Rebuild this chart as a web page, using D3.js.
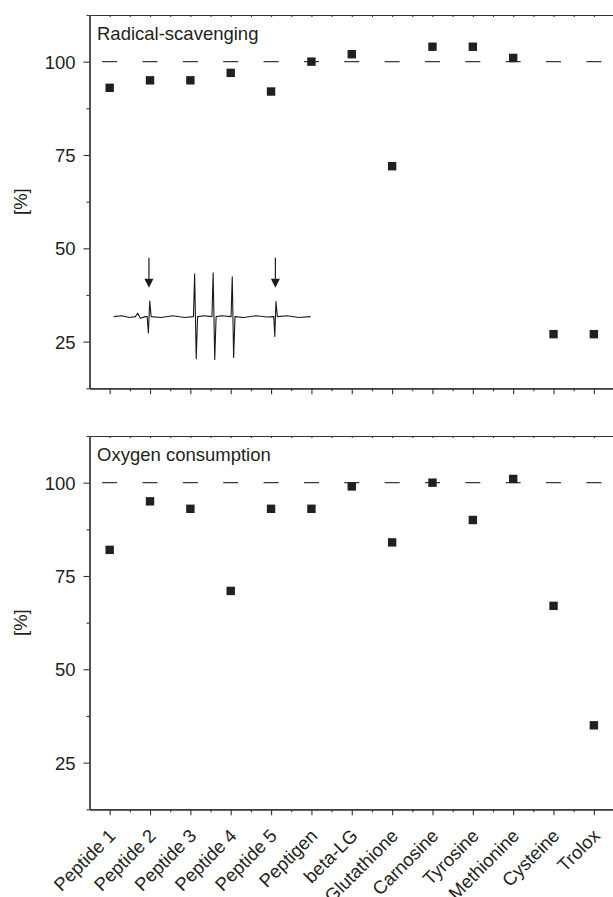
<!DOCTYPE html>
<html>
<head>
<meta charset="utf-8">
<script src="https://cdn.jsdelivr.net/npm/d3@7"></script>
<style>
  html, body { margin: 0; padding: 0; background: #fff; overflow: hidden; }
  svg { display: block; overflow: hidden; }
  text { font-family: "Liberation Sans", Arial, Helvetica, sans-serif; fill: #231f20; }
</style>
</head>
<body>
<script>
// ---------------- data ----------------
const categories = ["Peptide 1", "Peptide 2", "Peptide 3", "Peptide 4", "Peptide 5", "Peptigen",
  "beta-LG", "Glutathione", "Carnosine", "Tyrosine", "Methionine", "Cysteine", "Trolox"];
const radicalScavenging = [93, 95, 95, 97, 92, 100, 102, 72, 104, 104, 101, 27, 27];
const oxygenConsumption = [82, 95, 93, 71, 93, 93, 99, 84, 100, 90, 101, 67, 35];
const panelTitles = ["Radical-scavenging", "Oxygen consumption"];
const yTickValues = [25, 50, 75, 100];
const yMinorTickValues = [12.5, 37.5, 62.5, 87.5, 112.5];
const yDomain = [12.5, 112.5];
const referenceLevel = 100;
const yAxisTitle = "[%]";

// ESR spectrum inset (field in arbitrary units 0-100, signal in relative units)
const esrField  = [0, 4, 8, 11.0, 12.2, 13.6, 16.0, 17.0, 17.6, 18.3, 19.0, 24, 30, 36, 40.5, 41.1, 41.9, 42.6, 46, 49.9, 50.5, 51.3, 52.0, 55, 59.6, 60.2, 60.9, 61.6, 66, 72, 78, 81.3, 81.8, 82.4, 83.1, 88, 94, 100];
const esrSignal = [0, 0.02, -0.02, 0, 0.08, -0.04, 0, 0, -0.38, 0.36, 0, -0.02, 0.02, -0.02, 0, 1.0, -0.98, 0, 0.02, 0, 1.02, -1.0, 0, 0.02, 0, 0.93, -0.95, 0, -0.02, 0.02, -0.01, 0, -0.46, 0.35, 0, 0.02, -0.02, 0];
const esrMarkerField = [17.9, 82.1];
const esrArrowTop = 1.37, esrArrowBase = 0.88, esrArrowTip = 0.67;

// ---------------- layout ----------------
const W = 613, H = 897;
const left = 89.5, step0 = 40.35;
const nCat = categories.length;
const panels = [
  { top: 15, bottom: 388.3, values: radicalScavenging, title: panelTitles[0], inset: true },
  { top: 436, bottom: 809.3, values: oxygenConsumption, title: panelTitles[1], inset: false }
];
const ink = "#231f20", axisInk = "#333";
const fontSize = 18.5;

const svg = d3.select("body").append("svg").attr("width", W).attr("height", H);

const x = d3.scaleLinear().domain([0.5, nCat + 0.6]).range([left, left + (nCat + 0.1) * step0]);
const catIdx = categories.map((_, i) => i + 1);
const halfIdx = d3.range(0.5, nCat + 0.51, 0.5);
const step = x(2) - x(1);
const dashLen = 15;

panels.forEach((p, pi) => {
  const y = d3.scaleLinear().domain(yDomain).range([p.bottom, p.top]);
  const g = svg.append("g");

  const topAx = g.append("g").attr("transform", `translate(0,${p.top})`)
    .call(d3.axisBottom(x).tickValues(halfIdx.filter(v => v > 0.5 && v < nCat + 0.5)).tickSize(2).tickSizeOuter(0).tickFormat(""));
  const botMinor = g.append("g").attr("transform", `translate(0,${p.bottom})`)
    .call(d3.axisBottom(x).tickValues(halfIdx.filter(v => v % 1 !== 0 && v > 0.5 && v < nCat + 0.5)).tickSize(3).tickSizeOuter(0).tickFormat(""));
  const botMajor = g.append("g").attr("transform", `translate(0,${p.bottom})`)
    .call(d3.axisBottom(x).tickValues(catIdx).tickSize(6).tickSizeOuter(0)
      .tickFormat(pi === 1 ? (d => categories[d - 1]) : ""));
  const leftMinor = g.append("g").attr("transform", `translate(${left},0)`)
    .call(d3.axisLeft(y).tickValues(yMinorTickValues).tickSize(3).tickSizeOuter(0).tickFormat(""));
  const leftMajor = g.append("g").attr("transform", `translate(${left},0)`)
    .call(d3.axisLeft(y).tickValues(yTickValues).tickSize(6).tickPadding(8).tickSizeOuter(0));

  [topAx, botMinor, botMajor, leftMinor, leftMajor].forEach(a => {
    a.selectAll("path.domain").attr("stroke", axisInk).attr("stroke-width", 1.2);
    a.selectAll(".tick line").attr("stroke", axisInk).attr("stroke-width", 1.1);
    a.selectAll("text").attr("font-size", fontSize).attr("fill", ink)
      .attr("font-family", '"Liberation Sans", Arial, sans-serif');
  });
  leftMajor.selectAll("text").attr("dy", "0.36em");

  if (pi === 1) {
    botMajor.selectAll(".tick text")
      .attr("text-anchor", "end")
      .attr("x", 0).attr("y", 0).attr("dy", "0.35em")
      .attr("transform", "translate(2,23) rotate(-45)");
  }

  g.append("text")
    .attr("transform", `translate(${left - 69},${(p.top + p.bottom) / 2}) rotate(-90)`)
    .attr("text-anchor", "middle").attr("dy", "0.35em")
    .attr("font-size", fontSize).text(yAxisTitle);

  g.append("text").attr("x", left + 7.5).attr("y", p.top + 25)
    .attr("font-size", fontSize).text(p.title);

  const x0 = x(0.5), x1 = x(nCat + 0.6);
  const lead = x(1) - dashLen / 2 - x0;
  g.append("line")
    .attr("x1", x0).attr("x2", x1).attr("y1", y(referenceLevel)).attr("y2", y(referenceLevel))
    .attr("stroke", "#3a3a3a").attr("stroke-width", 1.4)
    .attr("stroke-dasharray", `${dashLen} ${step - dashLen}`)
    .attr("stroke-dashoffset", step - lead);

  const s = 8.4;
  g.selectAll("rect.pt").data(p.values).enter().append("rect")
    .attr("class", "pt")
    .attr("x", (d, i) => x(i + 1) - s / 2)
    .attr("y", d => y(d) - s / 2)
    .attr("width", s).attr("height", s)
    .attr("fill", ink);

  if (p.inset) {
    const centre = 31.7, amp = 11.5;
    const ix = d3.scaleLinear().domain([0, 100]).range([x(1.1), x(5.98)]);
    const iy = d3.scaleLinear().domain([-1, 1]).range([y(centre - amp), y(centre + amp)]);
    const pts = esrField.map((f, i) => [f, esrSignal[i]]);
    g.append("path")
      .attr("d", d3.line().x(d => ix(d[0])).y(d => iy(d[1]))(pts))
      .attr("fill", "none").attr("stroke", "#1a1a1a").attr("stroke-width", 1.1)
      .attr("stroke-linejoin", "round");
    esrMarkerField.forEach(f => {
      const ax = ix(f);
      g.append("line").attr("x1", ax).attr("x2", ax)
        .attr("y1", iy(esrArrowTop)).attr("y2", iy(esrArrowBase))
        .attr("stroke", "#1a1a1a").attr("stroke-width", 1.2);
      g.append("path")
        .attr("d", `M${ax - 4.5},${iy(esrArrowBase)} L${ax + 4.5},${iy(esrArrowBase)} L${ax},${iy(esrArrowTip)} Z`)
        .attr("fill", "#1a1a1a");
    });
  }
});
</script>
</body>
</html>
